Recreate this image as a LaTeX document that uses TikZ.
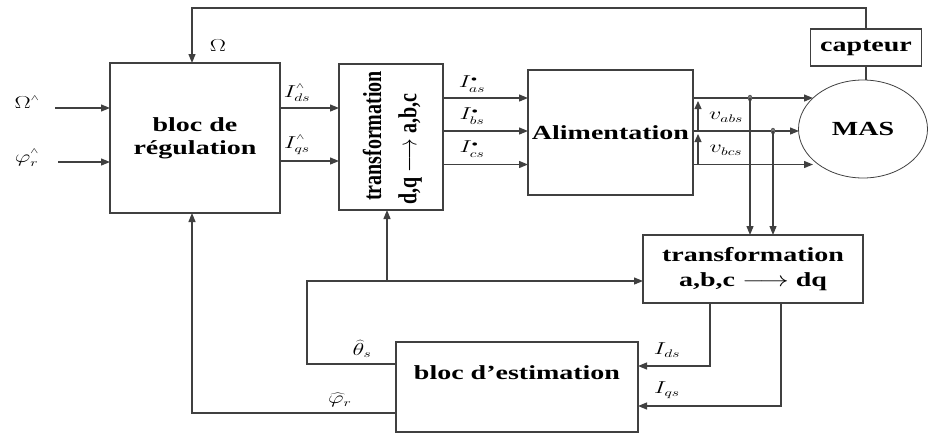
\documentclass[tikz,border=0pt]{standalone}
\usepackage{fontspec}
\setmainfont{Liberation Serif}
\usetikzlibrary{arrows.meta,shapes.geometric}
\newcommand{\sx}[1]{\scalebox{1.4}[1]{#1}}
\newcommand{\sy}[1]{\scalebox{1}[1.3]{#1}}
\newcommand{\hh}{^{\raisebox{2pt}{$\scriptscriptstyle\wedge$}}}
\definecolor{ln}{HTML}{404040}
\begin{document}
\begin{tikzpicture}[x=1pt,y=-1pt,
  box/.style={draw=ln, line width=1.2pt, inner sep=0pt, outer sep=0pt,
    font=\fontsize{20}{23}\selectfont\bfseries, align=center},
  conn/.style={draw=ln, line width=1.2pt},
  arr/.style={conn, -{Triangle[length=9pt,width=7pt]}},
  lbl/.style={font=\fontsize{16}{16}\selectfont, inner sep=0pt},
  dot/.style={draw=ln, fill=ln!70, ellipse, minimum width=4pt, minimum height=6pt, inner sep=0pt}]
\useasboundingbox (0,0) rectangle (928,434);
% blocks
\node[box, minimum width=170pt, minimum height=150pt] (reg) at (195,138) {\sx{bloc de}\\\sx{régulation}};
\node[box, minimum width=104pt, minimum height=146pt] (t1) at (391,137) {};
\node[rotate=90, font=\fontsize{20}{20}\selectfont\bfseries, inner sep=0pt] (t1a) at (372,136) {\sy{transformation}};
\node[rotate=90, font=\fontsize{20}{20}\selectfont\bfseries, inner sep=0pt] (t1b) at (410,149) {\sy{d,q $\longrightarrow$ a,b,c}};
\node[box, minimum width=165pt, minimum height=125pt] (al) at (610.5,132.5) {\sx{Alimentation}};
\node[box, minimum width=220pt, minimum height=68pt, font=\fontsize{20}{25}\selectfont\bfseries] (t2) at (753,269) {\sx{transformation}\\\sx{a,b,c $\longrightarrow$ dq}};
\node[box, minimum width=242pt, minimum height=90pt] (est) at (517,387) {\sx{bloc d'estimation}\\[6pt]};
\node[box, minimum width=111pt, minimum height=37pt] (cap) at (866,47.5) {\sx{capteur}};
\node[box, ellipse, line width=0.8pt, minimum width=129pt, minimum height=98pt] (mas) at (863,129) {\sx{MAS}};
% helper coordinates
\coordinate (topL) at (192,8);
\coordinate (ya) at (0,108);
\coordinate (yb) at (0,161);
\coordinate (in1) at (55,108);
\coordinate (in2) at (58,162);
\coordinate (y1) at (0,98);
\coordinate (y2) at (0,131);
\coordinate (y3) at (0,164.5);
\coordinate (m1) at (813,98);
\coordinate (m2) at (799,131);
\coordinate (m3) at (813,164.5);
\coordinate (th) at (307,364);
\coordinate (br) at (387,281);
\coordinate (ph) at (192,413);
\coordinate (c1) at (710,366);
\coordinate (c2) at (781,406);
\coordinate (va0) at (698,131);
\coordinate (va1) at (698,101);
\coordinate (vb0) at (698,164.5);
\coordinate (vb1) at (698,134);
% top feedback
\draw[arr] (cap.north) |- (topL) -- (topL |- reg.north);
\draw[conn] (cap.south) -- (cap.south |- mas.north);
% inputs
\draw[arr] (in1) -- (in1 -| reg.west);
\draw[arr] (in2) -- (in2 -| reg.west);
% reg -> t1
\draw[arr] (reg.east |- ya) -- (t1.west |- ya);
\draw[arr] (reg.east |- yb) -- (t1.west |- yb);
% t1 -> al
\draw[arr] (t1.east |- y1) -- (al.west |- y1);
\draw[arr] (t1.east |- y2) -- (al.west |- y2);
\draw[arr] (t1.east |- y3) -- (al.west |- y3);
% al -> mas
\draw[arr] (al.east |- y1) -- (m1);
\draw[arr] (al.east |- y2) -- (m2);
\draw[arr] (al.east |- y3) -- (m3);
\node[dot] (d1) at (750,98) {};
\node[dot] (d2) at (773,131) {};
\draw[arr] (d1.center) -- (d1.center |- t2.north);
\draw[arr] (d2.center) -- (d2.center |- t2.north);
% voltage arrows
\draw[conn, -{Triangle[length=8pt,width=7pt]}] (va0) -- (va1);
\draw[conn, -{Triangle[length=8pt,width=7pt]}] (vb0) -- (vb1);
% t2 -> est
\draw[arr] (c1 |- t2.south) -- (c1) -- (c1 -| est.east);
\draw[arr] (c2 |- t2.south) -- (c2) -- (c2 -| est.east);
% est -> theta loop
\draw[arr] (est.west |- th) -- (th) -- (th |- br) -- (br -| t2.west);
\draw[arr] (br) -- (br |- t1.south);
% est -> phi -> reg
\draw[arr] (est.west |- ph) -- (ph) -- (ph |- reg.south);
% labels
\node[lbl] (lO) at (218,46) {\sx{$\Omega$}};
\node[lbl] (lOs) at (27,102) {\sx{$\Omega\hh$}};
\node[lbl] (lPs) at (27,158) {\sx{$\varphi_r\hh$}};
\node[lbl] (lIds) at (297,93) {\sx{$I_{ds}\hh$}};
\node[lbl] (lIqs) at (297,145) {\sx{$I_{qs}\hh$}};
\node[lbl] (lIas) at (472,84) {\sx{$I_{as}^{\scriptscriptstyle\bullet}$}};
\node[lbl] (lIbs) at (472,116) {\sx{$I_{bs}^{\scriptscriptstyle\bullet}$}};
\node[lbl] (lIcs) at (472,149) {\sx{$I_{cs}^{\scriptscriptstyle\bullet}$}};
\node[lbl] (lva) at (726,117) {\sx{$v_{abs}$}};
\node[lbl] (lvb) at (726,150) {\sx{$v_{bcs}$}};
\node[lbl] (lth) at (362,349) {\sx{$\widehat{\theta}_s$}};
\node[lbl] (lph) at (340,400) {\sx{$\widehat{\varphi}_r$}};
\node[lbl] (lId) at (667,350) {\sx{$I_{ds}$}};
\node[lbl] (lIq) at (667,390) {\sx{$I_{qs}$}};
\end{tikzpicture}
\end{document}
